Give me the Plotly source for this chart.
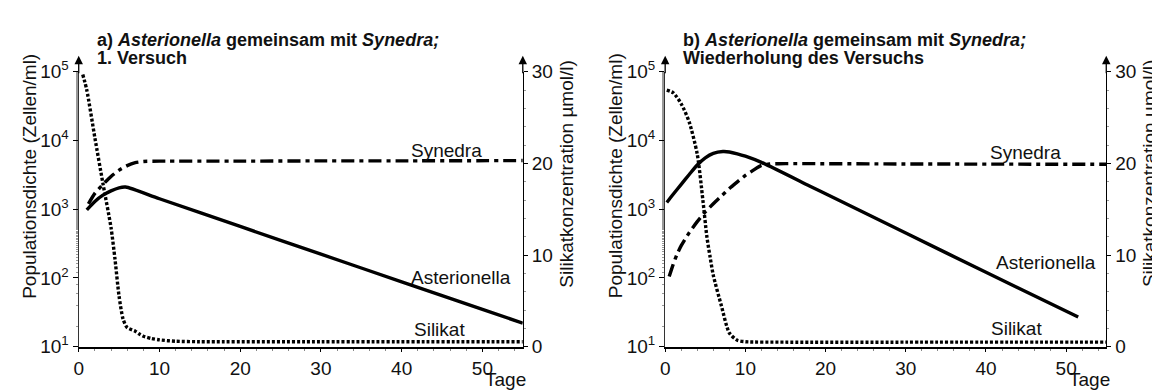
import plotly.graph_objects as go

# ---------------- data ----------------
# Panel a) 1. Versuch
ast_a_days = [1, 2, 3, 4, 5, 5.8, 10, 20, 30, 40, 50, 55]
ast_a_vals = [980, 1300, 1600, 1850, 2050, 2100, 1420, 562, 222, 88, 35, 22]

syn_a_days = [1.2, 2, 3, 4, 5, 6, 7, 8, 10, 20, 30, 40, 55]
syn_a_vals = [1200, 1700, 2300, 3000, 3700, 4300, 4750, 4950, 5000, 5000, 5050, 5050, 5100]

sil_a_days = [0.5, 1, 2, 3, 4, 4.5, 5, 5.5, 6, 7, 7.5, 8, 9, 10, 12, 15, 30, 55]
sil_a_vals = [29.7, 28, 22.8, 17.8, 13, 9.5, 5.5, 3.0, 2.1, 1.7, 1.4, 1.15, 0.9, 0.75, 0.6, 0.55, 0.55, 0.55]

# Panel b) Wiederholung des Versuchs
ast_b_days = [0.2, 1, 2, 3, 4, 5, 6, 7.2, 8, 9, 10, 12, 18, 20, 30, 40, 51.5]
ast_b_vals = [1250, 1650, 2300, 3200, 4400, 5600, 6500, 6900, 6800, 6400, 5900, 4800, 2180, 1675, 451, 121, 27]

syn_b_days = [0.5, 1, 1.5, 2, 3, 4, 5, 6, 7, 8, 9, 10, 11, 12, 13, 15, 30, 55]
syn_b_vals = [105, 158, 224, 295, 457, 660, 912, 1200, 1550, 2000, 2500, 3100, 3700, 4350, 4550, 4600, 4550, 4500]

sil_b_days = [0.2, 1, 2, 3, 4, 4.7, 5.2, 5.6, 6, 7, 8, 9, 10, 15, 30, 55]
sil_b_vals = [28, 27.7, 26.5, 24.5, 21, 16, 12, 9.8, 7.8, 4.5, 1.5, 0.7, 0.55, 0.5, 0.5, 0.5]

x_ticks = [0, 10, 20, 30, 40, 50]
y_log_ticks = [10, 100, 1000, 10000, 100000]
y_log_text = ["10<sup>1</sup>", "10<sup>2</sup>", "10<sup>3</sup>", "10<sup>4</sup>", "10<sup>5</sup>"]
y_sil_ticks = [0, 10, 20, 30]

titles_a = ["a) <i>Asterionella</i> gemeinsam mit <i>Synedra;</i>", "1. Versuch"]
titles_b = ["b) <i>Asterionella</i> gemeinsam mit <i>Synedra;</i>", "Wiederholung des Versuchs"]
left_label = "Populationsdichte (Zellen/ml)"
right_label = "Silikatkonzentration µmol/l)"
x_label = "Tage"

# ---------------- layout helpers ----------------
W, H = 1160, 392
FONT = "Liberation Sans, Arial, Helvetica, sans-serif"


def px(x):
    return x / W


def py(y):
    return 1 - y / H


SOLID = dict(color="black", width=3.4)
DASHDOT = dict(color="black", width=3.4, dash="13px,5px,4px,5px")
DOTTED = dict(color="black", width=3.4, dash="3px,2px")

fig = go.Figure()

panels = [
    dict(xa="x", ya="y", ya2="y2", ast=(ast_a_days, ast_a_vals), syn=(syn_a_days, syn_a_vals),
         sil=(sil_a_days, sil_a_vals)),
    dict(xa="x2", ya="y3", ya2="y4", ast=(ast_b_days, ast_b_vals), syn=(syn_b_days, syn_b_vals),
         sil=(sil_b_days, sil_b_vals)),
]

for p in panels:
    fig.add_trace(go.Scatter(x=p["sil"][0], y=p["sil"][1], mode="lines", line=dict(DOTTED, shape="spline", smoothing=0.7),
                             xaxis=p["xa"], yaxis=p["ya2"], showlegend=False))
    fig.add_trace(go.Scatter(x=p["syn"][0], y=p["syn"][1], mode="lines", line=dict(DASHDOT, shape="spline", smoothing=0.6),
                             xaxis=p["xa"], yaxis=p["ya"], showlegend=False))
    fig.add_trace(go.Scatter(x=p["ast"][0], y=p["ast"][1], mode="lines", line=dict(SOLID, shape="spline", smoothing=0.7),
                             xaxis=p["xa"], yaxis=p["ya"], showlegend=False))

TICKFONT = dict(family=FONT, size=19, color="#111")
Y_TOP, Y_BOT = 54, 347
panel_px = [(66, 512), (655, 1098)]

common_x = dict(range=[0, 55], tickvals=x_ticks, ticks="outside", ticklen=3, tickwidth=1.2,
                tickcolor="black", showline=True, linecolor="black", linewidth=2, showgrid=False,
                zeroline=False, tickfont=TICKFONT, fixedrange=True, ticklabelstandoff=0,
                minor=dict(ticks="outside", ticklen=2, dtick=2, tickcolor="#888", tickwidth=1))
common_ylog = dict(type="log", range=[1, 5], tickvals=y_log_ticks, ticktext=y_log_text,
                   ticks="outside", ticklen=5, tickwidth=1.2, tickcolor="black", showline=True,
                   linecolor="#333", linewidth=1.3, showgrid=False, zeroline=False,
                   tickfont=TICKFONT, fixedrange=True, ticklabelstandoff=0,
                   domain=[py(Y_BOT), py(Y_TOP)],
                   minor=dict(ticks="outside", ticklen=2, tickcolor="#999", tickwidth=1))
common_ylin = dict(range=[0, 30], tickvals=y_sil_ticks, ticks="outside", ticklen=4, tickwidth=1.2,
                   tickcolor="black", showline=True, linecolor="black", linewidth=1.3,
                   showgrid=False, zeroline=False, tickfont=TICKFONT, fixedrange=True,
                   side="right", ticklabelstandoff=0,
                   minor=dict(ticks="outside", ticklen=2, dtick=2, tickcolor="#999", tickwidth=1))

fig.update_layout(
    xaxis=dict(common_x, domain=[px(panel_px[0][0]), px(panel_px[0][1])], anchor="y"),
    yaxis=dict(common_ylog, anchor="x"),
    yaxis2=dict(common_ylin, overlaying="y", anchor="x"),
    xaxis2=dict(common_x, domain=[px(panel_px[1][0]), px(panel_px[1][1])], anchor="y3"),
    yaxis3=dict(common_ylog, anchor="x2"),
    yaxis4=dict(common_ylin, overlaying="y3", anchor="x2"),
    width=W, height=H, margin=dict(l=0, r=0, t=0, b=0),
    paper_bgcolor="white", plot_bgcolor="white",
    font=dict(family=FONT, color="#111"),
)

ann = []


def text(x, y, s, size=19, bold=False, angle=0, xanchor="center"):
    if bold:
        s = "<b>" + s + "</b>"
    ann.append(dict(x=px(x), y=py(y), xref="paper", yref="paper", text=s, showarrow=False,
                    xanchor=xanchor, yanchor="middle", textangle=angle,
                    font=dict(family=FONT, size=size, color="#111")))


offset = 589
for i, t in enumerate([titles_a, titles_b]):
    dx = i * offset
    x0, x1 = panel_px[i]
    text(x0 + 16, 20, t[0], size=18, bold=True, xanchor="left")
    text(x0 + 16, 39, t[1], size=18, bold=True, xanchor="left")
    text(17 + dx, 165, left_label, angle=-90)
    text(x1 + 43, 163, right_label, angle=-90)
    text(x1 - 17, 382, x_label)
    # arrows on top of both y axes
    for ax_x in (x0, x1):
        ann.append(dict(x=px(ax_x), y=py(37), xref="paper", yref="paper", showarrow=True,
                        ax=0, ay=Y_TOP - 37 + 2, arrowhead=2, arrowsize=1.3, arrowwidth=1.3,
                        arrowcolor="black", text=""))

# series labels
text(435, 138, "Synedra")
text(450, 273, "Asterionella")
text(428, 329, "Silikat")
text(1017, 140, "Synedra")
text(1037, 257, "Asterionella")
text(1008, 328, "Silikat")

fig.update_layout(annotations=ann)
fig.write_html("out.html")
